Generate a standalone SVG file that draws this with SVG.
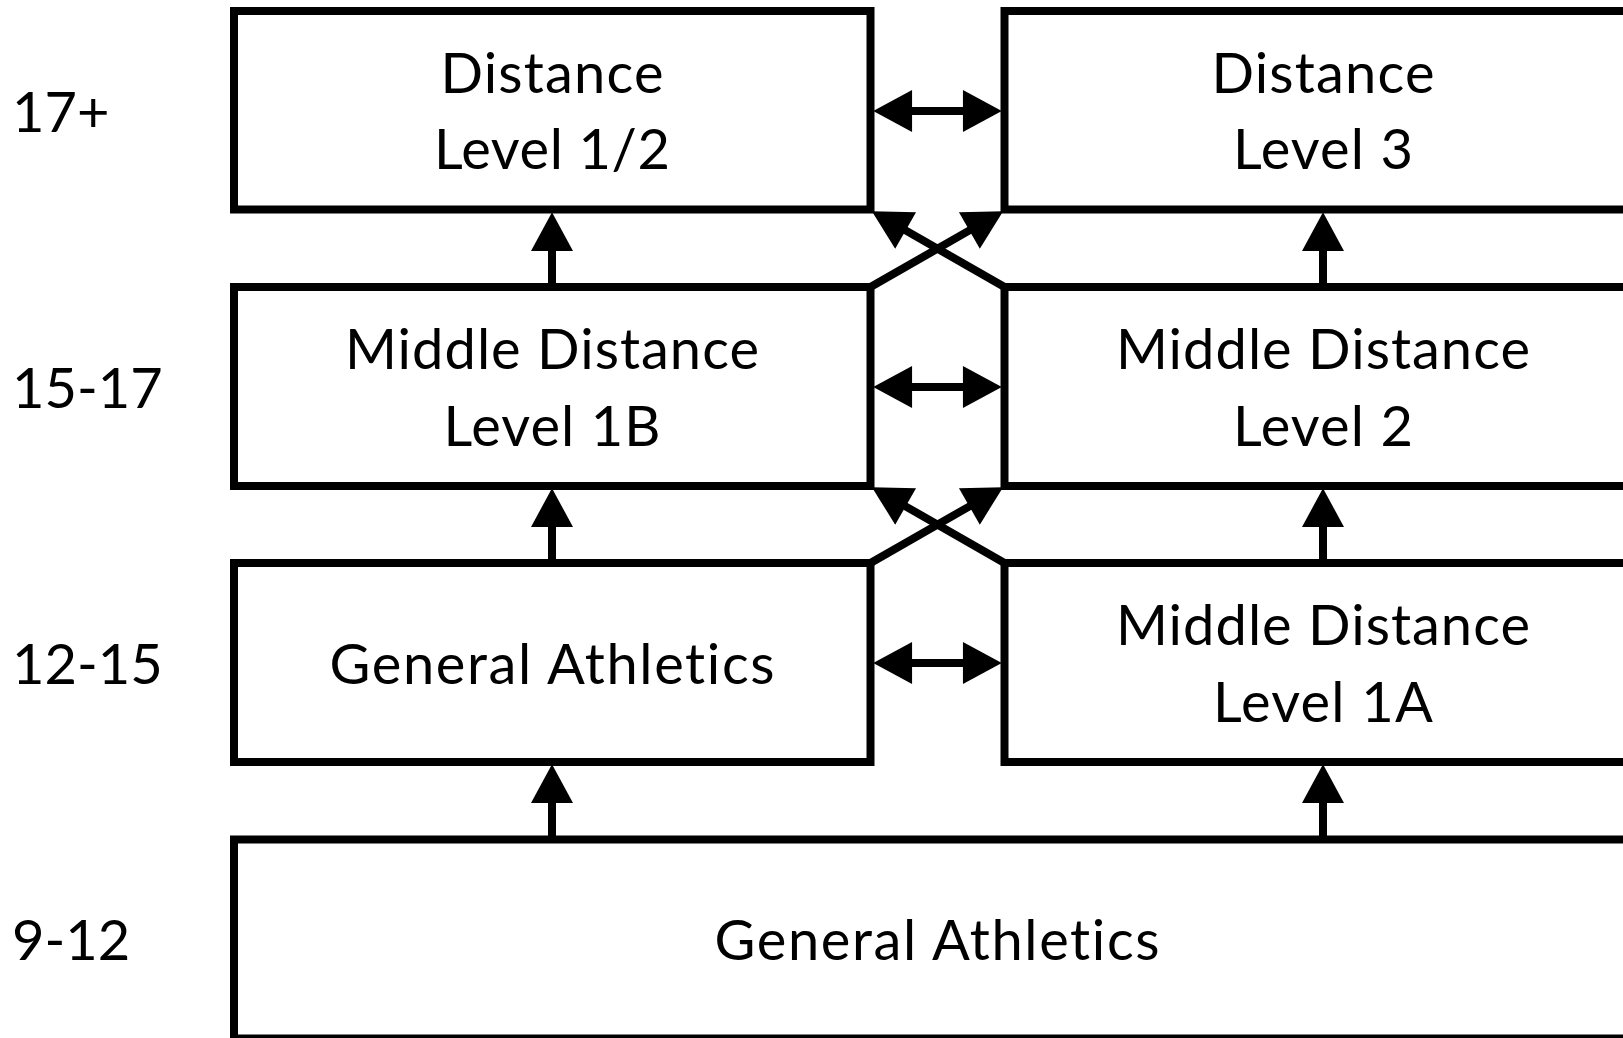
<svg xmlns="http://www.w3.org/2000/svg" width="1623" height="1038" viewBox="0 0 1623 1038">
<style>
.box{fill:#fff;stroke:#000;stroke-width:8}
.t{font-family:Lato,"Open Sans","Liberation Sans",sans-serif;font-size:56px;fill:#000;text-anchor:middle;font-variant-ligatures:none;font-feature-settings:"liga" 0,"clig" 0}
.lab{font-family:Lato,"Open Sans","Liberation Sans",sans-serif;font-size:56px;fill:#000;text-anchor:start;font-variant-ligatures:none}
.c{fill:none;stroke:#000;stroke-width:8}
</style>
<defs>
<marker id="ah" markerUnits="userSpaceOnUse" markerWidth="40" markerHeight="42" viewBox="0 0 37 40" refX="1" refY="20" orient="auto-start-reverse">
<path d="M0,0 L37,20 L0,40 z" fill="#000"/>
</marker>
</defs>
<rect width="1623" height="1038" fill="#fff"/>
<g id="labels">
<text class="lab" x="12" y="132">17+</text>
<text class="lab" x="12" y="408">15-17</text>
<text class="lab" x="12" y="684">12-15</text>
<text class="lab" x="12" y="960">9-12</text>
</g>
<g id="node-distance-12">
<rect class="box" x="234" y="11" width="636.5" height="198.5"/>
<text class="t" x="552" y="93" textLength="223">Distance</text>
<text class="t" x="552" y="169" textLength="236">Level 1/2</text>
</g>
<g id="node-distance-3">
<rect class="box" x="1004.5" y="11" width="637" height="198.5"/>
<text class="t" x="1323" y="93" textLength="223">Distance</text>
<text class="t" x="1323" y="169" textLength="180">Level 3</text>
</g>
<g id="node-md-1b">
<rect class="box" x="234" y="287" width="636.5" height="199"/>
<text class="t" x="552" y="369" textLength="414">Middle Distance</text>
<text class="t" x="552" y="446" textLength="217">Level 1B</text>
</g>
<g id="node-md-2">
<rect class="box" x="1004.5" y="287" width="637" height="199"/>
<text class="t" x="1323" y="369" textLength="414">Middle Distance</text>
<text class="t" x="1323" y="446" textLength="180">Level 2</text>
</g>
<g id="node-ga-12">
<rect class="box" x="234" y="563" width="636.5" height="199"/>
<text class="t" x="552" y="684" textLength="445">General Athletics</text>
</g>
<g id="node-md-1a">
<rect class="box" x="1004.5" y="563" width="637" height="199"/>
<text class="t" x="1323" y="645" textLength="414">Middle Distance</text>
<text class="t" x="1323" y="722" textLength="220">Level 1A</text>
</g>
<g id="node-ga-9">
<rect class="box" x="234" y="839.5" width="1407.5" height="199"/>
<text class="t" x="937" y="960" textLength="445">General Athletics</text>
</g>
<g id="connectors">
<line class="c" x1="911" y1="111" x2="964" y2="111" marker-start="url(#ah)" marker-end="url(#ah)"/>
<line class="c" x1="911" y1="387" x2="964" y2="387" marker-start="url(#ah)" marker-end="url(#ah)"/>
<line class="c" x1="911" y1="663" x2="964" y2="663" marker-start="url(#ah)" marker-end="url(#ah)"/>
<line class="c" x1="552" y1="287" x2="552" y2="250" marker-end="url(#ah)"/>
<line class="c" x1="1323" y1="287" x2="1323" y2="250" marker-end="url(#ah)"/>
<line class="c" x1="552" y1="563" x2="552" y2="526" marker-end="url(#ah)"/>
<line class="c" x1="1323" y1="563" x2="1323" y2="526" marker-end="url(#ah)"/>
<line class="c" x1="552" y1="839.5" x2="552" y2="802" marker-end="url(#ah)"/>
<line class="c" x1="1323" y1="839.5" x2="1323" y2="802" marker-end="url(#ah)"/>
<line class="c" x1="870.5" y1="287" x2="970.3" y2="229.9" marker-end="url(#ah)"/>
<line class="c" x1="1004.5" y1="287" x2="904.7" y2="229.9" marker-end="url(#ah)"/>
<line class="c" x1="870.5" y1="563" x2="970.3" y2="505.9" marker-end="url(#ah)"/>
<line class="c" x1="1004.5" y1="563" x2="904.7" y2="505.9" marker-end="url(#ah)"/>
</g>
</svg>
